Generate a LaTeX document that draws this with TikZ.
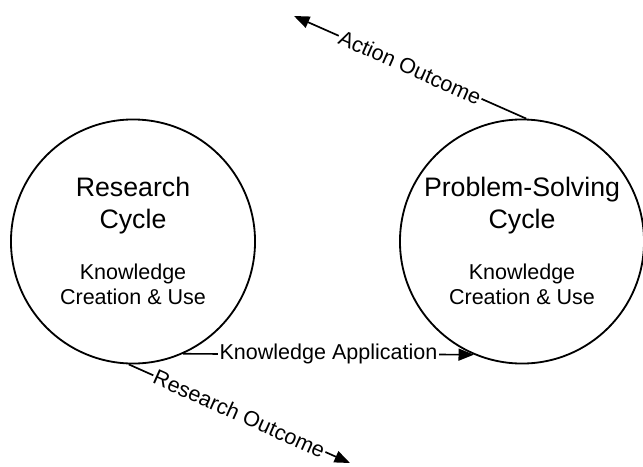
\documentclass[tikz,border=0pt]{standalone}
\usepackage{fontspec}
\setmainfont{Liberation Sans}
\usetikzlibrary{positioning,arrows.meta}

\begin{document}
\begin{tikzpicture}[x=0.025cm,y=-0.025cm,
  cyclenode/.style={draw,circle,line width=1.3pt,minimum size=6.1cm,inner sep=0pt},
  cycletitle/.style={align=center,font=\fontsize{19}{22.7}\selectfont},
  cyclebody/.style={align=center,font=\fontsize{15.3}{17.7}\selectfont},
  flow/.style={line width=1.2pt,-{Triangle[length=11pt,width=8.5pt]}},
  flowlabel/.style={fill=white,inner sep=1pt,font=\fontsize{15.3}{17.7}\selectfont}]

\useasboundingbox (0,0) rectangle (643,466);

\node[cyclenode] (RC) at (133,241.5) {};
\node[cyclenode] (PC) at (522,241.5) {};

\node[cycletitle] (RCtitle) at (133,206) {Research\\Cycle};
\node[cyclebody] (RCbody) at (133,284.5) {Knowledge\\Creation \& Use};
\node[cycletitle] (PCtitle) at (522,206) {Problem-Solving\\Cycle};
\node[cyclebody] (PCbody) at (522,284.5) {Knowledge\\Creation \& Use};

\coordinate (AO) at (294,16);
\coordinate (RO) at (350,463);

\draw[flow] (PC.88) -- node[flowlabel,sloped] {Action Outcome} (AO);
\draw[flow] (RC.-66.6) -- node[flowlabel] {Knowledge Application} (PC.-113.4);
\draw[flow] (RC.-92) -- node[flowlabel,sloped] {Research Outcome} (RO);

\end{tikzpicture}
\end{document}
